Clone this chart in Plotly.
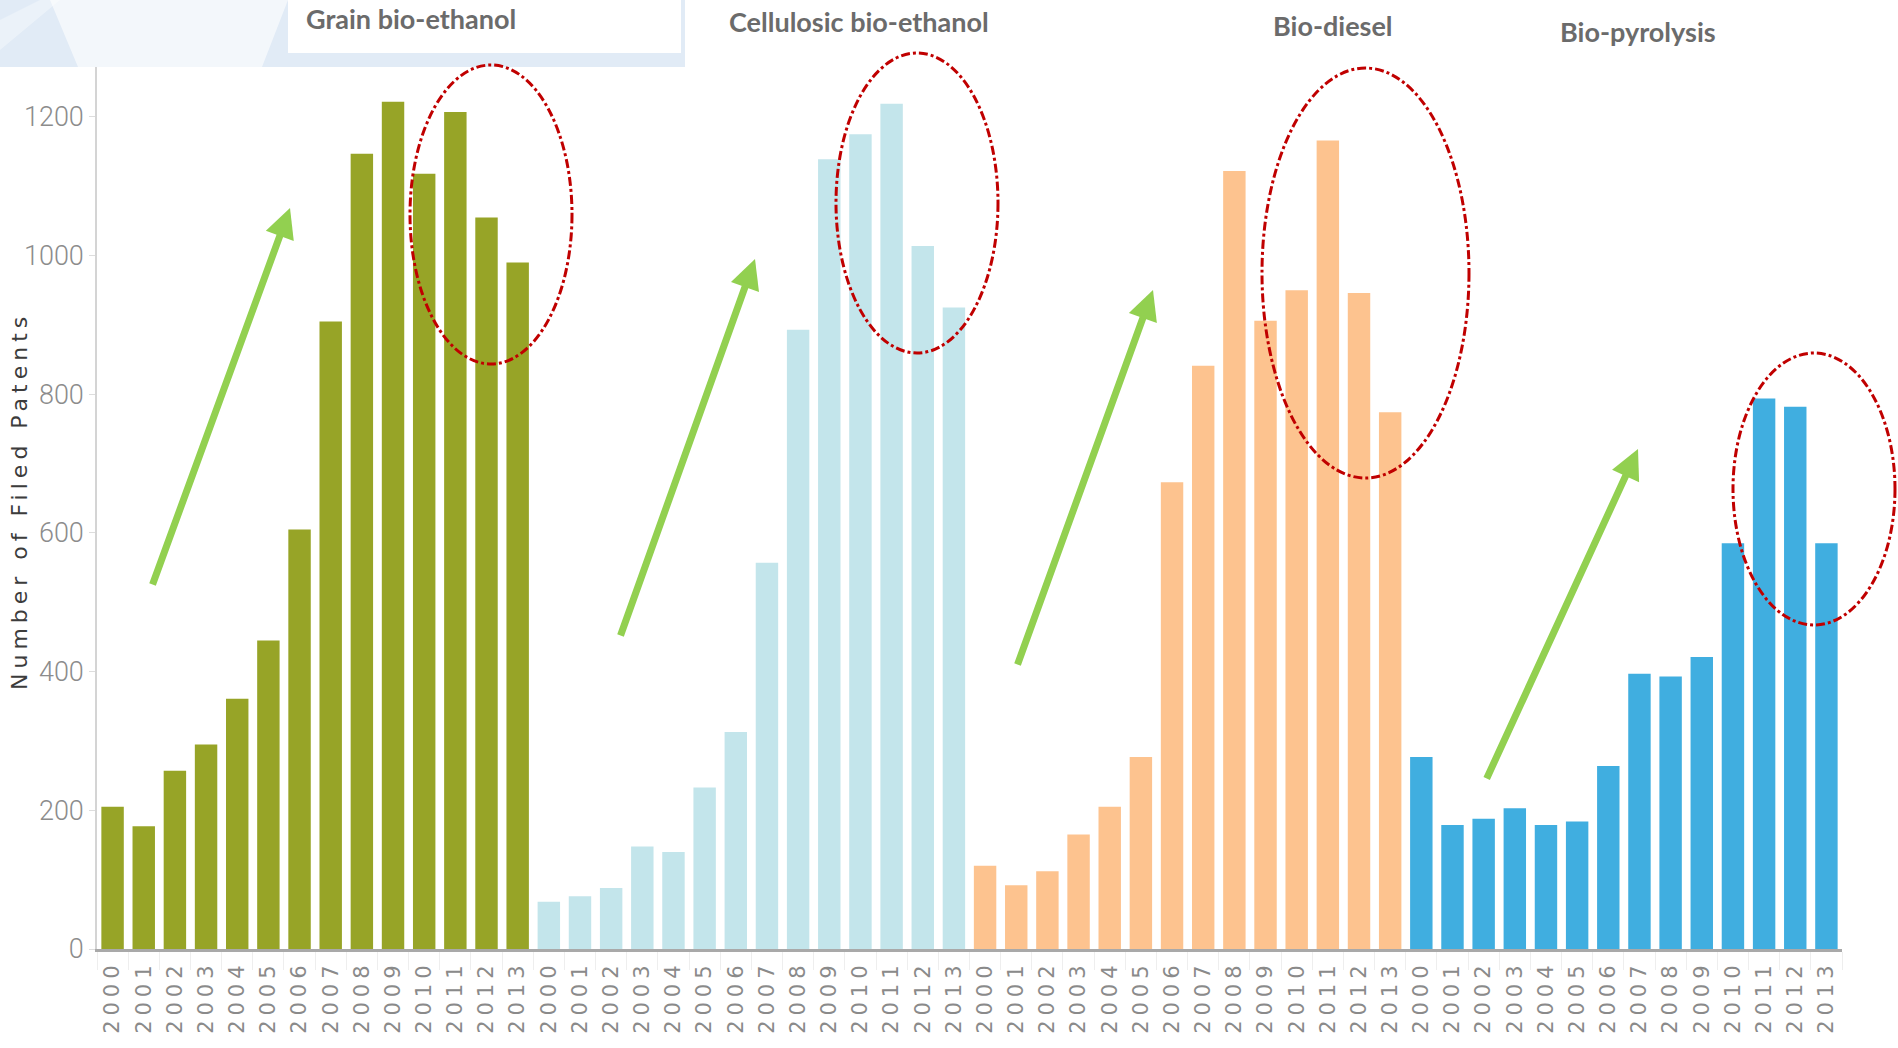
import plotly.graph_objects as go

years = ["2000", "2001", "2002", "2003", "2004", "2005", "2006",
         "2007", "2008", "2009", "2010", "2011", "2012", "2013"]
groups = ["Grain bio-ethanol", "Cellulosic bio-ethanol", "Bio-diesel", "Bio-pyrolysis"]
grain = [205, 177, 257, 295, 361, 445, 605, 905, 1147, 1222, 1118, 1207, 1055, 990]
cellulosic = [68, 76, 88, 148, 140, 233, 313, 557, 893, 1139, 1175, 1219, 1014, 925]
diesel = [120, 92, 112, 165, 205, 277, 673, 841, 1122, 906, 950, 1166, 946, 774]
pyrolysis = [277, 179, 188, 203, 179, 184, 264, 397, 393, 421, 585, 794, 782, 585]
colors = ["#97a427", "#c3e5eb", "#fdc38f", "#40aee0"]
series = [grain, cellulosic, diesel, pyrolysis]
y_ticks = [0, 200, 400, 600, 800, 1000, 1200]

fig = go.Figure()
all_keys, all_text = [], []
for gi, (name, vals, col) in enumerate(zip(groups, series, colors)):
    keys = [f"{name} {y}" for y in years]
    all_keys += keys
    all_text += [f'<span style="letter-spacing:5px">{y}</span>' for y in years]
    fig.add_trace(go.Bar(x=keys, y=vals, name=name, marker=dict(color=col, line=dict(width=0)),
                         showlegend=False))

W, H = 1898, 1048
L, R, T, B = 97, 56, 67, 99
pw, ph = W - L - R, H - T - B

def px(x):
    return (x - L) / pw

def py(y):
    return (H - B - y) / ph

shapes = []
# decorative top strip
shapes.append(dict(type="rect", xref="paper", yref="paper", x0=px(0), x1=px(685), y0=py(67), y1=py(0),
                   fillcolor="#e1ebf6", line=dict(width=0), layer="below"))
shapes.append(dict(type="path", xref="paper", yref="paper",
                   path=f"M {px(50)} {py(0)} L {px(288)} {py(0)} L {px(262)} {py(67)} L {px(78)} {py(67)} Z",
                   fillcolor="rgba(255,255,255,0.6)", line=dict(width=0), layer="below"))
shapes.append(dict(type="path", xref="paper", yref="paper",
                   path=f"M {px(0)} {py(20)} L {px(40)} {py(0)} L {px(60)} {py(0)} L {px(0)} {py(50)} Z",
                   fillcolor="rgba(255,255,255,0.35)", line=dict(width=0), layer="below"))
shapes.append(dict(type="rect", xref="paper", yref="paper", x0=px(288), x1=px(681), y0=py(53), y1=py(0),
                   fillcolor="white", line=dict(width=0), layer="below"))
# red dash-dot ellipses (pixel boxes)
ellipses = [(410, 572, 65, 364), (836, 998, 53, 353), (1262, 1469, 68, 478), (1733, 1895, 353, 625)]
for x0, x1, y0, y1 in ellipses:
    shapes.append(dict(type="circle", xref="paper", yref="paper", x0=px(x0), x1=px(x1),
                       y0=py(y1), y1=py(y0), line=dict(color="#c00000", width=3, dash="dashdot")))

annotations = []
title_pos = [(411, 19), (859, 21), (1333, 26), (1638, 32)]
for name, (tx, ty) in zip(groups, title_pos):
    annotations.append(dict(text=f"<b>{name}</b>", xref="paper", yref="paper", x=px(tx), y=py(ty),
                            xanchor="center", yanchor="middle", showarrow=False,
                            font=dict(family="Lato", size=27, color="#6b6b6b")))
# green trend arrows: (tip x, tip y, tail x, tail y) in pixels
arrows = [(290, 208, 152, 586), (755, 259, 620, 637), (1153, 290, 1017, 666), (1638, 449, 1486, 780)]
for hx, hy, tx, ty in arrows:
    annotations.append(dict(text="", xref="paper", yref="paper", x=px(hx), y=py(hy),
                            ax=tx - hx, ay=ty - hy, showarrow=True, arrowhead=2, arrowsize=0.85,
                            arrowwidth=7, arrowcolor="#92d050", standoff=0))
annotations.append(dict(text='<span style="letter-spacing:5px">Number of Filed Patents</span>',
                        xref="paper", yref="paper", x=px(19), y=py(501),
                        textangle=-90, xanchor="center", yanchor="middle", showarrow=False,
                        font=dict(family="DejaVu Sans", size=22, color="#3c3c3c")))

fig.update_layout(
    width=W, height=H, autosize=False,
    margin=dict(l=L, r=R, t=T, b=B, pad=0),
    paper_bgcolor="white", plot_bgcolor="white",
    bargap=0.28,
    shapes=shapes, annotations=annotations,
    xaxis=dict(type="category", categoryorder="array", categoryarray=all_keys,
               tickvals=all_keys, ticktext=all_text, tickangle=-90,
               range=[-0.5, len(all_keys) - 0.5],
               showline=True, linecolor="#a9a9a9", linewidth=3,
               ticks="outside", tickson="boundaries", ticklen=18, tickcolor="#eeeeee",
               showgrid=False, zeroline=False,
               tickfont=dict(family="DejaVu Sans", size=21, color="#8a8a8a")),
    yaxis=dict(range=[0, 1272], tickvals=y_ticks, ticktext=[str(v) for v in y_ticks],
               showline=True, linecolor="#d4d4d4", linewidth=1.5,
               ticks="outside", ticklen=6, tickcolor="#dddddd",
               showgrid=False, zeroline=False,
               tickfont=dict(family="Roboto", size=27, color="#8c8c8c", weight=300)),
)

fig.write_html("out.html", config={"displayModeBar": False},
               post_script="document.body.style.margin='0';")
